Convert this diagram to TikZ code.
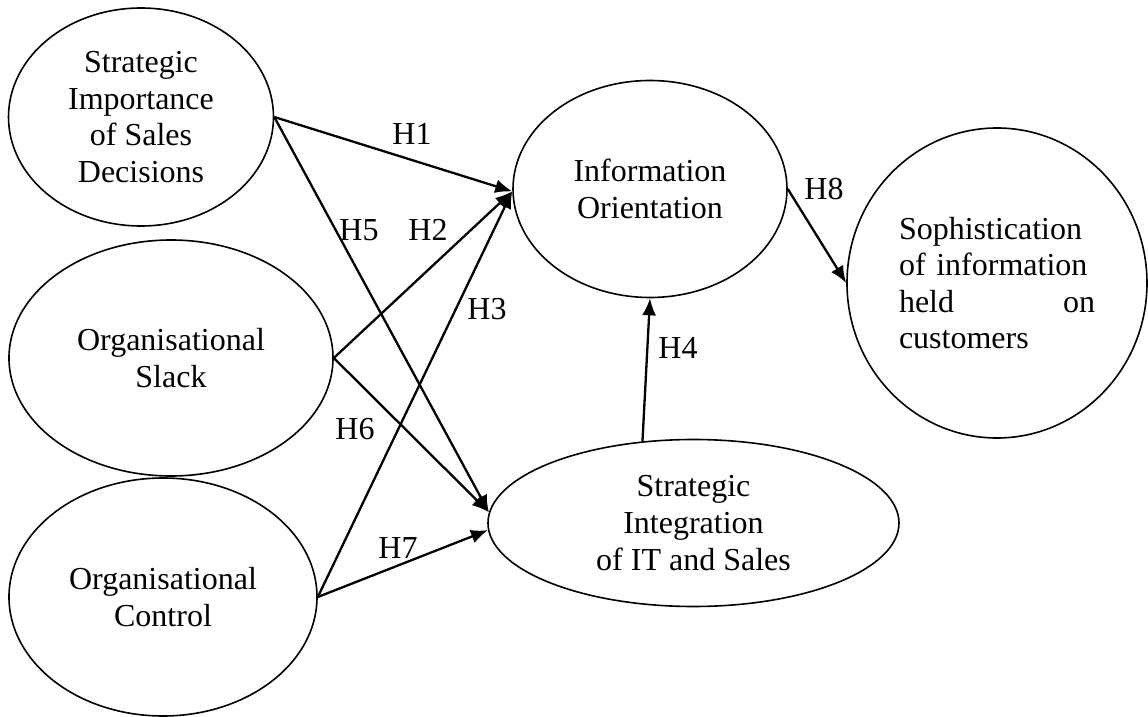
\documentclass[tikz,border=0pt]{standalone}
\usepackage{fontspec}
\setmainfont{Liberation Serif}
\usetikzlibrary{shapes.geometric, arrows.meta}
\tikzset{
  latent/.style={draw, ellipse, line width=0.8pt, inner sep=0pt, align=center},
  link/.style={-{Latex[length=8.5pt,width=7pt]}, line width=1.15pt},
  hyp/.style={inner sep=0pt}
}

\begin{document}
\begin{tikzpicture}[x=0.5pt, y=-0.5pt, font=\fontsize{16}{18.3}\selectfont]
        \useasboundingbox (0,0) rectangle (1148,717);
        % Constructs on the left
        \node[latent, minimum width=132.5pt, minimum height=109pt] (sisd) at (141,117) {Strategic\\Importance\\of Sales\\Decisions};
        \node[latent, minimum width=162pt, minimum height=118pt] (slack) at (171,358) {Organisational\\Slack};
        \node[latent, minimum width=154pt, minimum height=119pt] (control) at (163,597) {Organisational\\Control};
        
        % Mediators and outcome
        \node[latent, minimum width=137pt, minimum height=108.5pt] (io) at (650,189) {Information\\Orientation};
        \node[latent, minimum width=205.5pt, minimum height=83.5pt] (sii) at (693.5,523) {Strategic\\Integration\\of IT and Sales};
        \node[latent, minimum width=150pt, minimum height=155pt, align=left, text width=98pt] (soph) at (997,283) {Sophistication\\of information\\held\hfill on\\customers};
        
        % Hypothesised paths
        \draw[link] (sisd.east) -- (io.181);
        \draw[link] (slack.east) -- (io.181);
        \draw[link] (control.east) -- (io.181);
        \draw[link] (sii.122.6) -- (io.south);
        \draw[link] (sisd.east) -- (sii.177);
        \draw[link] (slack.east) -- (sii.177);
        \draw[link] (control.east) -- (sii.182);
        \draw[link] (io.east) -- (soph.west);
        
        % Labels
        \node[hyp] (h1) at (412,134) {H1};
        \node[hyp] (h2) at (428,230) {H2};
        \node[hyp] (h3) at (487,309) {H3};
        \node[hyp] (h4) at (678,348) {H4};
        \node[hyp] (h5) at (359,230) {H5};
        \node[hyp] (h6) at (355,429) {H6};
        \node[hyp] (h7) at (398,548) {H7};
        \node[hyp] (h8) at (824,189) {H8};
    \end{tikzpicture}
\end{document}
